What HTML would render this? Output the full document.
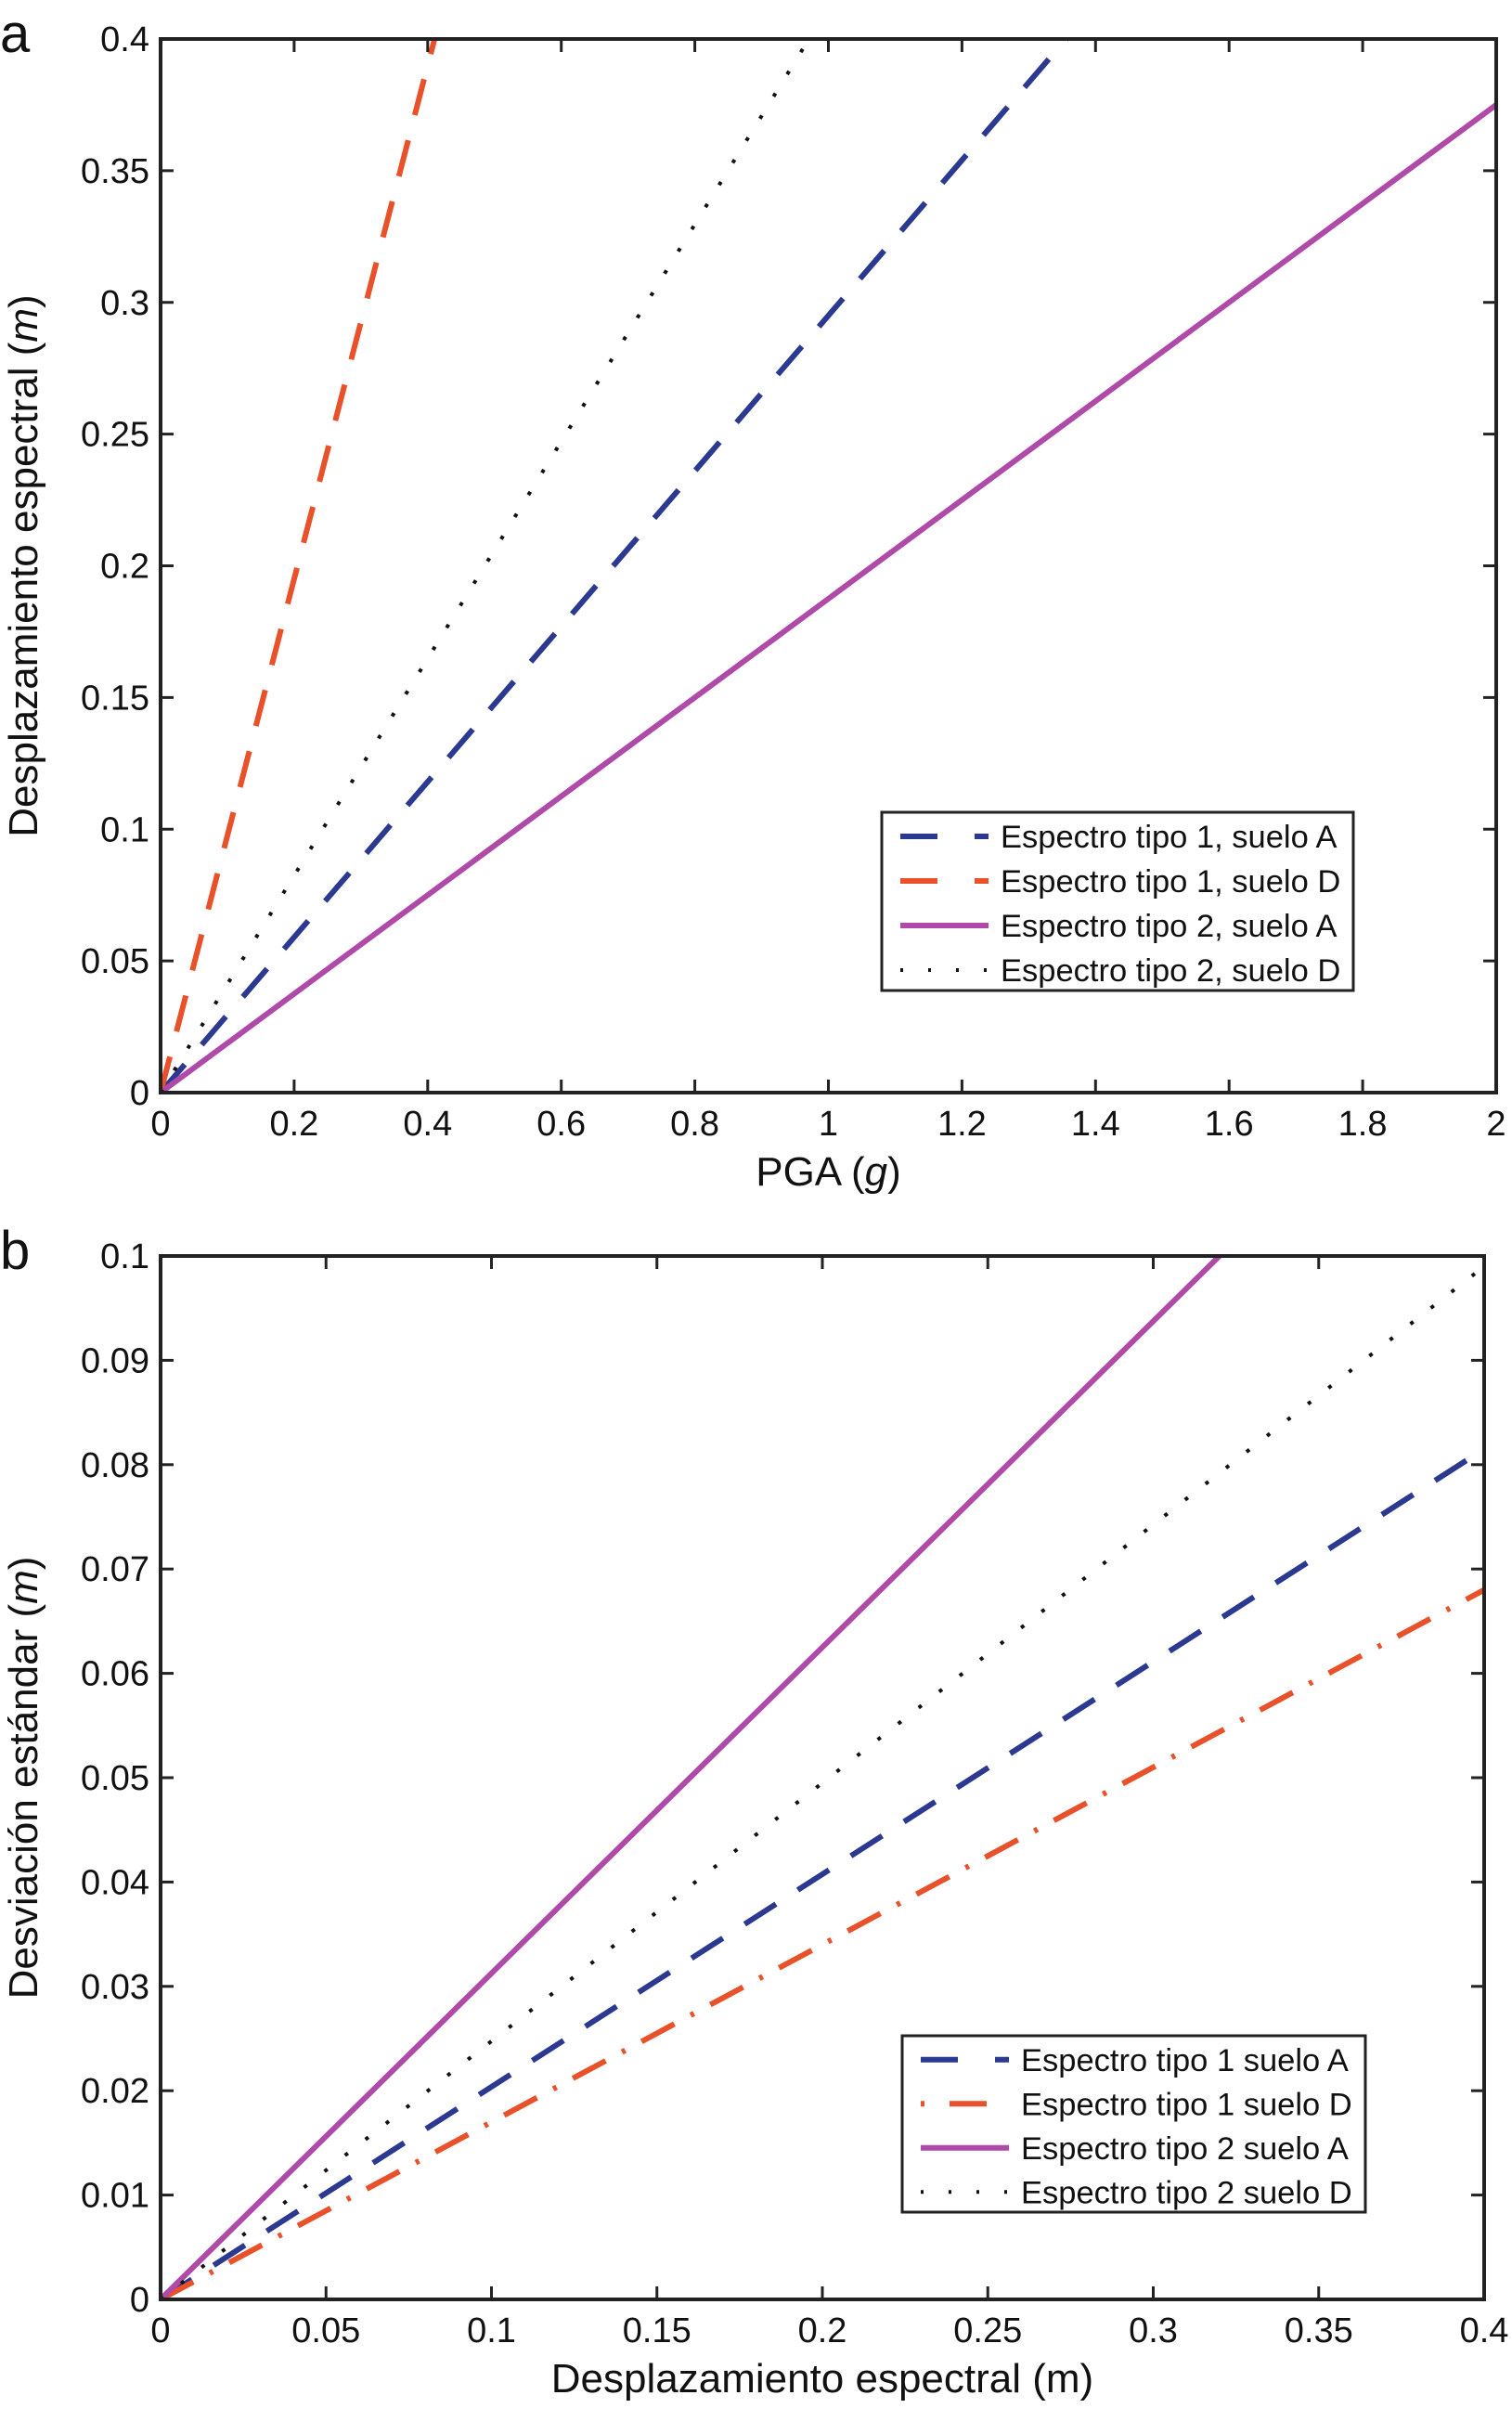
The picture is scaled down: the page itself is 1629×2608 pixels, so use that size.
<!DOCTYPE html>
<html><head><meta charset="utf-8"><style>
html,body{margin:0;padding:0;background:#fff}
svg{display:block;font-family:"Liberation Sans",Arial,sans-serif}
</style></head><body>
<svg id="c" width="1629" height="2608" viewBox="0 0 1629 2608"></svg>
<script>
// Panel a data (PGA in g -> spectral displacement in m), linear series endpoints
const aXTicks=[0,0.2,0.4,0.6,0.8,1,1.2,1.4,1.6,1.8,2];
const aYTicks=[0,0.05,0.1,0.15,0.2,0.25,0.3,0.35,0.4];
const aX=[0,2];
const aT1A=[0,0.59];
const aT1D=[0,1.95];
const aT2A=[0,0.375];
const aT2D=[0,0.824];
// Panel b data (spectral displacement -> std deviation)
const bXTicks=[0,0.05,0.1,0.15,0.2,0.25,0.3,0.35,0.4];
const bYTicks=[0,0.01,0.02,0.03,0.04,0.05,0.06,0.07,0.08,0.09,0.1];
const bX=[0,0.4];
const bT1A=[0,0.0815];
const bT1D=[0,0.068];
const bT2A=[0,0.125];
const bT2D=[0,0.099];

const NS="http://www.w3.org/2000/svg";
const svg=document.getElementById('c');
function el(tag,attrs,parent){const e=document.createElementNS(NS,tag);for(const k in attrs)e.setAttribute(k,attrs[k]);(parent||svg).appendChild(e);return e;}

function panel(o){
  const g=el('g',{});
  
  
  const sx=v=>o.L+(v-o.xmin)/(o.xmax-o.xmin)*(o.R-o.L);
  const sy=v=>o.B-(v-o.ymin)/(o.ymax-o.ymin)*(o.B-o.T);
  const cp='clip-'+o.name;
  const cl=el('clipPath',{id:cp},g);el('rect',{x:o.L,y:o.T,width:o.R-o.L,height:o.B-o.T},cl);
  const sg=el('g',{'clip-path':'url(#'+cp+')'},g);
  o.series.forEach(s=>{
    const pts=o.xs.map((x,i)=>sx(x)+','+sy(s.v[i])).join(' ');
    const p=el('polyline',{points:pts,fill:'none',stroke:s.color,'stroke-width':s.w,'stroke-dasharray':s.dash||'none'},sg);
    
    
  });
  const box=el('rect',{x:o.L,y:o.T,width:o.R-o.L,height:o.B-o.T,fill:'none',stroke:'#222','stroke-width':4},g);
  
  
  o.xt.forEach(v=>{
    const x=sx(v);
    el('line',{x1:x,x2:x,y1:o.B,y2:o.B-14,stroke:'#222','stroke-width':3},g);
    el('line',{x1:x,x2:x,y1:o.T,y2:o.T+14,stroke:'#222','stroke-width':3},g);
    const t=el('text',{x:x,y:o.B+46,'font-size':38,'text-anchor':'middle',fill:'#111'},g);
    t.textContent=String(v);
    
    
  });
  o.yt.forEach(v=>{
    const y=sy(v);
    el('line',{x1:o.L,x2:o.L+14,y1:y,y2:y,stroke:'#222','stroke-width':3},g);
    el('line',{x1:o.R,x2:o.R-14,y1:y,y2:y,stroke:'#222','stroke-width':3},g);
    const t=el('text',{x:o.L-12,y:y+13,'font-size':38,'text-anchor':'end',fill:'#111'},g);
    t.textContent=String(v);
    
    
  });
  const xt=el('text',{x:(o.L+o.R)/2,y:o.B+100,'font-size':44,'text-anchor':'middle',fill:'#111'},g);
  xt.innerHTML=o.xtitle;
  
  
  const yt=el('text',{x:0,y:0,'font-size':44,'text-anchor':'middle',fill:'#111',transform:'translate(40,'+((o.T+o.B)/2)+') rotate(-90)'},g);
  yt.innerHTML=o.ytitle;
  
  
  const pl=el('text',{x:0,y:o.T+14,'font-size':58,fill:'#111'},g);
  pl.textContent=o.label;
  
  
  const lg=el('g',{},g);
  
  
  el('rect',{x:o.lg.x,y:o.lg.y,width:o.lg.w,height:o.lg.h,fill:'#fff',stroke:'#222','stroke-width':3},lg);
  const rh=o.lg.h/4;
  o.series.forEach((s,i)=>{
    const cy=o.lg.y+rh*(i+0.5)+2;
    const e=el('g',{},lg);
    
    
    el('line',{x1:o.lg.x+20,x2:o.lg.x+115,y1:cy,y2:cy,stroke:s.color,'stroke-width':s.w,'stroke-dasharray':s.ldash||s.dash||'none'},e);
    const t=el('text',{x:o.lg.x+128,y:cy+12,'font-size':34.5,fill:'#111'},e);
    t.textContent=s.label;
  });
}

const BLUE='#2b3990',ORANGE='#e8512a',PURPLE='#b04aa8',BLACK='#111';
panel({name:'panel-a',label:'a',L:173,R:1612,T:42,B:1177,xmin:0,xmax:2,ymin:0,ymax:0.4,xt:aXTicks,yt:aYTicks,xs:aX,
  xtitle:'PGA (<tspan font-style="italic">g</tspan>)',ytitle:'Desplazamiento espectral (<tspan font-style="italic">m</tspan>)',
  lg:{x:950,y:875,w:508,h:192},
  series:[
    {id:'series-tipo1-suelo-a',v:aT1A,color:BLUE,w:6,dash:'40 28',ldash:'40 40 15',label:'Espectro tipo 1, suelo A'},
    {id:'series-tipo1-suelo-d',v:aT1D,color:ORANGE,w:6,dash:'40 28',ldash:'40 40 15',label:'Espectro tipo 1, suelo D'},
    {id:'series-tipo2-suelo-a',v:aT2A,color:PURPLE,w:6,label:'Espectro tipo 2, suelo A'},
    {id:'series-tipo2-suelo-d',v:aT2D,color:BLACK,w:4,dash:'4 24',ldash:'3 27',label:'Espectro tipo 2, suelo D'}
  ]});
panel({name:'panel-b',label:'b',L:173,R:1599,T:1353,B:2477,xmin:0,xmax:0.4,ymin:0,ymax:0.1,xt:bXTicks,yt:bYTicks,xs:bX,
  xtitle:'Desplazamiento espectral (m)',ytitle:'Desviación estándar (<tspan font-style="italic">m</tspan>)',
  lg:{x:972,y:2193,w:499,h:190},
  series:[
    {id:'series-tipo1-suelo-a',v:bT1A,color:BLUE,w:6,dash:'40 28',ldash:'40 40 15',label:'Espectro tipo 1 suelo A'},
    {id:'series-tipo1-suelo-d',v:bT1D,color:ORANGE,w:6,dash:'40 20 4 20',ldash:'4 27 40 100',label:'Espectro tipo 1 suelo D'},
    {id:'series-tipo2-suelo-a',v:bT2A,color:PURPLE,w:6,label:'Espectro tipo 2 suelo A'},
    {id:'series-tipo2-suelo-d',v:bT2D,color:BLACK,w:4,dash:'4 24',ldash:'3 27',label:'Espectro tipo 2 suelo D'}
  ]});
</script>
</body></html>
